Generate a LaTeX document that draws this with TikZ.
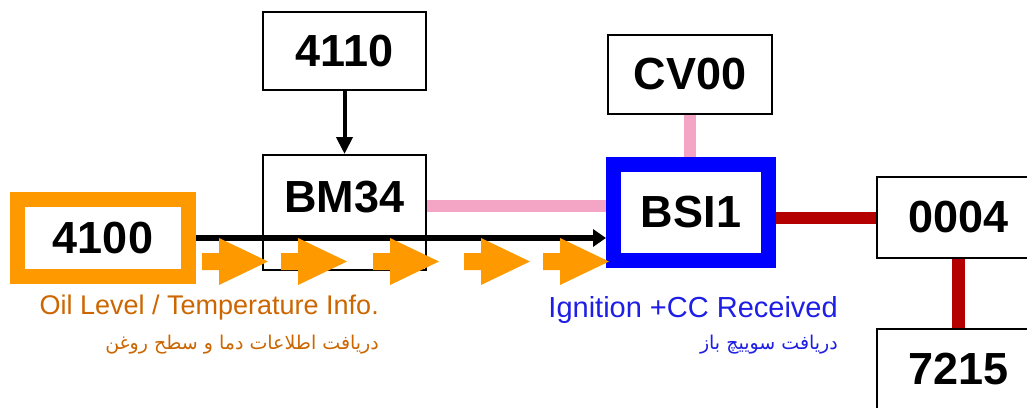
\documentclass[tikz,border=0pt]{standalone}
\usepackage{fontspec}
\setmainfont{Liberation Sans}
\newfontfamily\arabicfont[Script=Arabic]{DejaVu Sans}
\TeXXeTstate=1
\definecolor{SignalOrange}{HTML}{FF9900}
\definecolor{LabelOrange}{HTML}{CC6600}
\definecolor{BusBlue}{HTML}{0000FF}
\definecolor{LabelBlue}{HTML}{1E1EE6}
\definecolor{BusPink}{HTML}{F4A4C4}
\definecolor{BusRed}{HTML}{B40000}
\usepackage{tikz}
\usetikzlibrary{positioning, arrows.meta, calc}

\tikzset{
  ecu/.style={draw=black, line width=2pt, fill=white, inner sep=0pt,
              minimum width=163pt, font=\fontsize{45}{50}\selectfont\bfseries},
  hiliteecu/.style={ecu, line width=15pt},
  caption/.style={anchor=east, inner sep=0pt, font=\fontsize{27}{30}\selectfont},
  captionfa/.style={anchor=east, inner sep=0pt, font=\arabicfont\fontsize{19}{23}\selectfont},
  lowbus/.style={BusPink, line width=12pt},
  highbus/.style={BusRed, line width=12pt}
}

\begin{document}
\begin{tikzpicture}[x=1pt, y=-1pt]
  \useasboundingbox[fill=white] (0,0) rectangle (1027,407);

  % units
  \node[ecu, minimum height=78pt] (n4110) at (344.5,51) {4110};
  \node[ecu, minimum height=115pt, text depth=31pt] (bm34) at (344.5,212.5) {BM34};
  \node[hiliteecu, draw=SignalOrange, minimum width=171pt, minimum height=77pt] (n4100) at (103,238) {4100};
  \node[ecu, minimum width=164pt, minimum height=79pt] (cv00) at (690,74.5) {CV00};
  \node[hiliteecu, draw=BusBlue, minimum width=155pt, minimum height=96pt] (bsi) at (691,212.5) {BSI1};
  \node[ecu, minimum height=81pt] (n0004) at (958.5,217.5) {0004};
  \node[ecu, minimum height=80pt] (n7215) at (958.5,369) {7215};

  % links
  \draw[line width=4pt, -{Triangle[length=17pt, width=16pt]}] (n4110) -- (bm34);
  \draw[lowbus] ([yshift=6.5pt]bm34.east) -- ([yshift=6.5pt]bm34.east -| bsi.west);
  \draw[lowbus] (cv00.south) -- (cv00.south |- bsi.north);
  \draw[highbus] (n0004.west -| bsi.east) -- (n0004.west);
  \draw[highbus, line width=13pt] (n0004) -- (n7215);
  \draw[line width=5.5pt, -{Triangle[length=13pt, width=17pt]}] (n4100.east) -- (n4100.east -| bsi.west);

  % signal flow
  \foreach \x in {202,281,373,464,543}
    \fill[SignalOrange] (\x,253) -- (\x+17,253) -- (\x+17,238) -- (\x+66,261.5)
      -- (\x+17,285) -- (\x+17,270) -- (\x,270) -- cycle;

  \node[caption, text=LabelOrange] (oilinfo) at (379,308) {Oil Level / Temperature Info.};
  \node[captionfa, text=LabelOrange] (oilinfofa) at (379,345) {\beginR دریافت اطلاعات دما و سطح روغن\endR};
  \node[caption, text=LabelBlue, font=\fontsize{29}{32}\selectfont] (ignition) at (838,310) {Ignition +CC Received};
  \node[captionfa, text=LabelBlue] (ignitionfa) at (838,345) {\beginR دریافت سوییچ باز\endR};
\end{tikzpicture}
\end{document}
